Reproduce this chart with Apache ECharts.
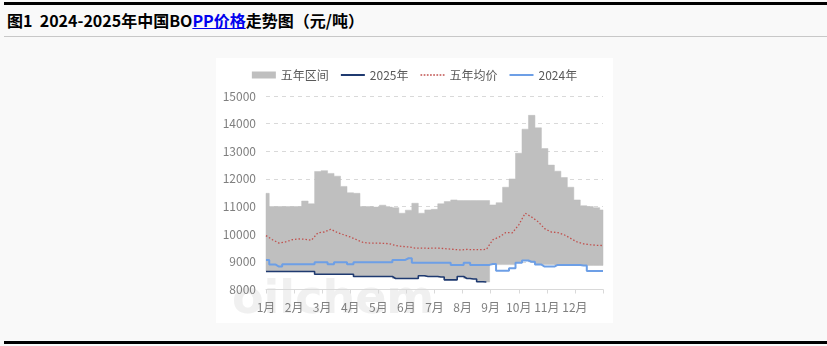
<!DOCTYPE html>
<html>
<head>
<meta charset="utf-8">
<title>2024-2025年中国BOPP价格走势图</title>
<script src="https://cdn.jsdelivr.net/npm/echarts@6/dist/echarts.min.js"></script>
<style>
  html, body { margin: 0; padding: 0; width: 827px; height: 346px; overflow: hidden;
    background: #f9f9f9; font-family: "Noto Sans CJK SC", "Noto Sans", sans-serif; }
  #topRule { position: absolute; left: 4px; right: 0; top: 2px; height: 3px; background: #000; }
  #title { position: absolute; left: 7px; top: 9px; font-size: 16px; font-weight: bold;
    line-height: 22px; color: #000; white-space: nowrap; }
  #title a { color: #0000ee; text-decoration: underline; }
  #subRule { position: absolute; left: 4px; right: 0; top: 36px; height: 1px; background: #c8c8c8; }
  #chart { position: absolute; left: 216px; top: 58px; width: 397px; height: 265px; background: #fff; }
  #bottomRule { position: absolute; left: 4px; right: 0; top: 341px; height: 3px; background: #000; }
</style>
</head>
<body>
<div id="topRule"></div>
<div id="title">图1&nbsp;&nbsp;2024-2025年中国BO<a>PP价格</a>走势图（元/吨）</div>
<div id="subRule"></div>
<div id="chart"></div>
<div id="bottomRule"></div>
<script>
// Weekly prices, week 0 = first week of January, week 52 = year end
const monthLabels = ['1月', '2月', '3月', '4月', '5月', '6月', '7月', '8月', '9月', '10月', '11月', '12月'];
const yTicks = { min: 8000, max: 15000, step: 1000 };

// five-year range: upper and lower edges
const rangeHigh = [11480, 11000, 11000, 11000, 11000, 11000, 11200, 11100,
  12270, 12300, 12200, 12100, 11730, 11500, 11480,
  11000, 11000, 10980, 11050, 10980, 10960, 10760, 10870,
  11120, 10760, 10880, 10900, 11100, 11180, 11240, 11220, 11220, 11220, 11220, 11220,
  11060, 11140, 11700, 12000, 12930, 13800, 14300, 13850, 13100, 12500, 12280, 12050, 11700, 11240, 11030, 11000, 10960, 10880];
const rangeLow = [8650, 8650, 8650, 8650, 8650, 8650, 8650, 8650,
  8550, 8550, 8550, 8550, 8550, 8550,
  8470, 8470, 8470, 8470, 8470, 8470,
  8400, 8400, 8400, 8400,
  8500, 8470, 8470, 8450, 8350, 8350, 8470, 8400, 8380, 8280, 8270,
  8920, 8900, 8900, 8900, 8970, 9050, 9000, 8900, 8900, 8900, 8890, 8890, 8890, 8890, 8870, 8870, 8870, 8870];
// five-year average
const avg5y = [9950, 9800, 9680, 9720, 9800, 9830, 9820, 9780,
  10050, 10080, 10180, 10060, 9980, 9900, 9800,
  9700, 9680, 9680, 9670, 9660, 9590, 9560, 9540,
  9500, 9500, 9490, 9500, 9490, 9470, 9450, 9430, 9450, 9440, 9440, 9450,
  9800, 9900, 10060, 10050, 10340, 10760, 10620, 10450, 10200, 10080, 10060, 9980, 9850, 9720, 9650, 9620, 9600, 9590];
// 2024
const price2024 = [9070, 8900, 8830, 8910, 8910, 8910, 8910, 8910,
  8990, 8990, 8910, 8990, 8990, 8910, 8990,
  8990, 8990, 8990, 8990, 8990, 9070, 9070, 9130,
  8970, 8970, 8970, 8970, 8970, 8970, 8890, 8890, 8970, 8890, 8890, 8890,
  8920, 8680, 8680, 8770, 8970, 9050, 9000, 8900, 8830, 8830, 8890, 8890, 8890, 8890, 8870, 8670, 8670, 8670];
// 2025 (to end of August)
const price2025 = [8650, 8650, 8650, 8650, 8650, 8650, 8650, 8650,
  8550, 8550, 8550, 8550, 8550, 8550,
  8470, 8470, 8470, 8470, 8470, 8470,
  8400, 8400, 8400, 8400,
  8500, 8470, 8470, 8450, 8350, 8350, 8470, 8400, 8380, 8280, 8270];

// week index -> position on the month axis (0 .. 12)
const WEEK = 12 / 52;
const weekX = i => i * WEEK;
const pairs = arr => arr.map((v, i) => [weekX(i), v]);
const rangeData = rangeHigh.map((h, i) => [weekX(i), rangeLow[i], h]);

// legend glyphs: a plain stroke and a dotted stroke
const solidIcon = 'path://M0,0H24V2H0Z';
let dotted = '';
for (let k = 0; k < 8; k++) dotted += 'M' + (k * 3) + ',0h1.6v1.6h-1.6Z';
const dottedIcon = 'path://' + dotted;

const chart = echarts.init(document.getElementById('chart'));
const axisFont = { color: '#7f7f7f', fontSize: 12, fontFamily: '"Noto Sans CJK SC", sans-serif' };

// five-year band as one stepped polygon: upper edge left->right, lower edge right->left
function renderBand(params, api) {
  if (params.dataIndex !== 0) return null;
  const top = [];
  const bottom = [];
  for (let j = 0; j < rangeData.length; j++) {
    const x = api.value(0, j);
    const xl = Math.max(0, x - WEEK / 2);
    const xr = Math.min(12, x + WEEK / 2);
    const lo = api.value(1, j);
    const hi = api.value(2, j);
    top.push(api.coord([xl, hi]), api.coord([xr, hi]));
    bottom.push(api.coord([xl, lo]), api.coord([xr, lo]));
  }
  return {
    type: 'polygon',
    shape: { points: top.concat(bottom.reverse()) },
    style: { fill: '#bfbfbf', stroke: '#bfbfbf', lineWidth: 0.5 }
  };
}

chart.setOption({
  animation: false,
  backgroundColor: '#ffffff',
  grid: { left: 50, right: 10, top: 38, bottom: 33.5 },
  legend: {
    top: 6,
    left: 'center',
    itemWidth: 24,
    itemHeight: 7,
    itemGap: 12,
    symbolKeepAspect: true,
    textStyle: { color: '#595959', fontSize: 12, fontFamily: '"Noto Sans CJK SC", sans-serif' },
    data: [
      { name: '五年区间', icon: 'rect', itemStyle: { color: '#bfbfbf' } },
      { name: '2025年', icon: solidIcon },
      { name: '五年均价', icon: dottedIcon },
      { name: '2024年', icon: solidIcon }
    ]
  },
  graphic: [{
    type: 'text',
    left: 16,
    top: 220,
    z: 0,
    silent: true,
    style: {
      text: 'oilchem',
      fontSize: 46,
      fontWeight: 'bold',
      fontFamily: '"DejaVu Sans", sans-serif',
      fill: 'rgba(225,225,225,0.5)'
    }
  }],
  xAxis: {
    type: 'value',
    min: 0,
    max: 12,
    interval: 1,
    axisLine: { show: true, lineStyle: { color: '#d9d9d9' } },
    axisTick: { show: true, length: 4, lineStyle: { color: '#d9d9d9' } },
    splitLine: { show: false },
    axisLabel: Object.assign({}, axisFont, {
      margin: 12,
      formatter: v => (v < 12 ? monthLabels[v] : '')
    })
  },
  yAxis: {
    type: 'value',
    min: yTicks.min,
    max: yTicks.max,
    interval: yTicks.step,
    axisLine: { show: false },
    axisTick: { show: false },
    splitLine: { lineStyle: { color: '#d9d9d9', type: [4, 4] } },
    axisLabel: Object.assign({}, axisFont, { margin: 10, formatter: v => String(v) })
  },
  series: [
    {
      name: '五年区间',
      type: 'custom',
      itemStyle: { color: '#bfbfbf' },
      encode: { x: 0, y: [1, 2] },
      data: rangeData,
      z: 1,
      renderItem: renderBand
    },
    {
      name: '五年均价',
      type: 'line',
      symbol: 'none',
      lineStyle: { color: '#c0504d', width: 1.3, type: [1.5, 2] },
      itemStyle: { color: '#c0504d' },
      data: pairs(avg5y),
      z: 3
    },
    {
      name: '2024年',
      type: 'line',
      step: 'middle',
      symbol: 'none',
      lineStyle: { color: '#6d9fe6', width: 2 },
      itemStyle: { color: '#6d9fe6' },
      data: pairs(price2024),
      z: 4
    },
    {
      name: '2025年',
      type: 'line',
      step: 'middle',
      symbol: 'none',
      lineStyle: { color: '#1f3a70', width: 1.6 },
      itemStyle: { color: '#1f3a70' },
      data: pairs(price2025),
      z: 5
    }
  ]
});
</script>
</body>
</html>
